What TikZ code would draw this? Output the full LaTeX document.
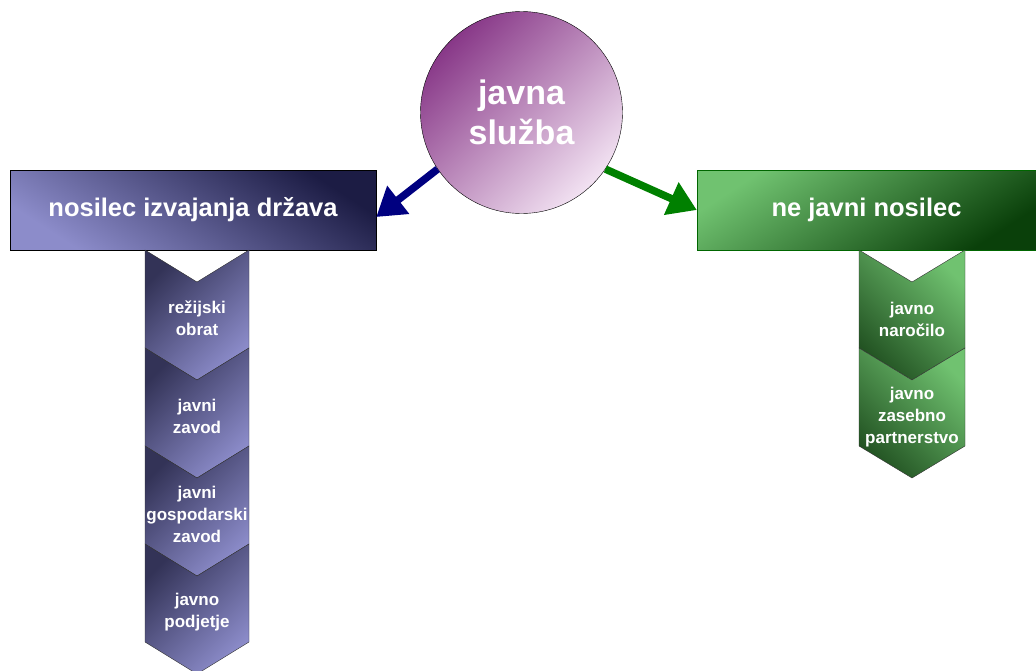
\documentclass[tikz,border=0pt]{standalone}
\usepackage{fontspec}
\setmainfont{Liberation Sans}
\usetikzlibrary{arrows.meta,positioning}
\definecolor{navyDark}{HTML}{1C1C44}
\definecolor{navyLight}{HTML}{8C8CCA}
\definecolor{plumDark}{HTML}{883888}
\definecolor{plumLight}{HTML}{F2E2F2}
\definecolor{leafLight}{HTML}{70C270}
\definecolor{leafDark}{HTML}{0A400A}
\definecolor{arrNavy}{HTML}{000080}
\definecolor{arrGreen}{HTML}{008000}

\begin{document}
\begin{tikzpicture}[x=1pt,y=-1pt,
  txt/.style={text=white, font=\bfseries\fontsize{25.5}{30}\selectfont},
  small/.style={text=white, align=center, font=\bfseries\fontsize{17}{22}\selectfont},
  lbox/.style={draw=black, txt, minimum width=366pt, minimum height=80pt,
    top color=navyDark, bottom color=navyLight, shading angle=-33},
  rbox/.style={draw=arrGreen!80!black, txt, minimum width=339pt, minimum height=80pt,
    top color=leafLight, bottom color=leafDark, shading angle=33},
  lchev/.style={draw=black!80, top color=navyDark!90, bottom color=navyLight, shading angle=45},
  rchev/.style={draw=black!80, top color=leafLight, bottom color=leafDark!90, shading angle=-45},
  link/.style={line width=7.5pt, -{Triangle[length=28pt,width=34pt]}}]
\useasboundingbox (0,0) rectangle (1036,670);
\node[circle, draw=black, minimum size=202pt, top color=plumDark, bottom color=plumLight,
  shading angle=45, text=white, align=center,
  font=\bfseries\fontsize{34}{40}\selectfont] (js) at (521.5,112.5) {javna\\služba};
\node[lbox] (nos) at (193,210) {nosilec izvajanja država};
\node[rbox] (nej) at (866.5,210) {ne javni nosilec};
% arrows
\draw[link, arrNavy] (js.214) -- ([yshift=-7pt]nos.east);
\draw[link, arrGreen] (js.326) -- (nej.west);
% left chevrons
\foreach \t [count=\i from 0] in {{režijski\\obrat},{javni\\zavod},{javni\\gospodarski\\zavod},{javno\\podjetje}}{
  \shade[lchev] (145,250+98*\i) -- ++(52,32) -- ++(52,-32) -- ++(0,98) -- ++(-52,32) -- ++(-52,-32) -- cycle;
  \node[small] (l\i) at (197,318+98*\i) {\t};
}
% right chevrons
\foreach \t [count=\i from 0] in {{javno\\naročilo},{javno\\zasebno\\partnerstvo}}{
  \shade[rchev] (859,250+98*\i) -- ++(53,32) -- ++(53,-32) -- ++(0,98) -- ++(-53,32) -- ++(-53,-32) -- cycle;
  \node[small] (r\i) at (912,319+98*\i) {\t};
}
\end{tikzpicture}
\end{document}
